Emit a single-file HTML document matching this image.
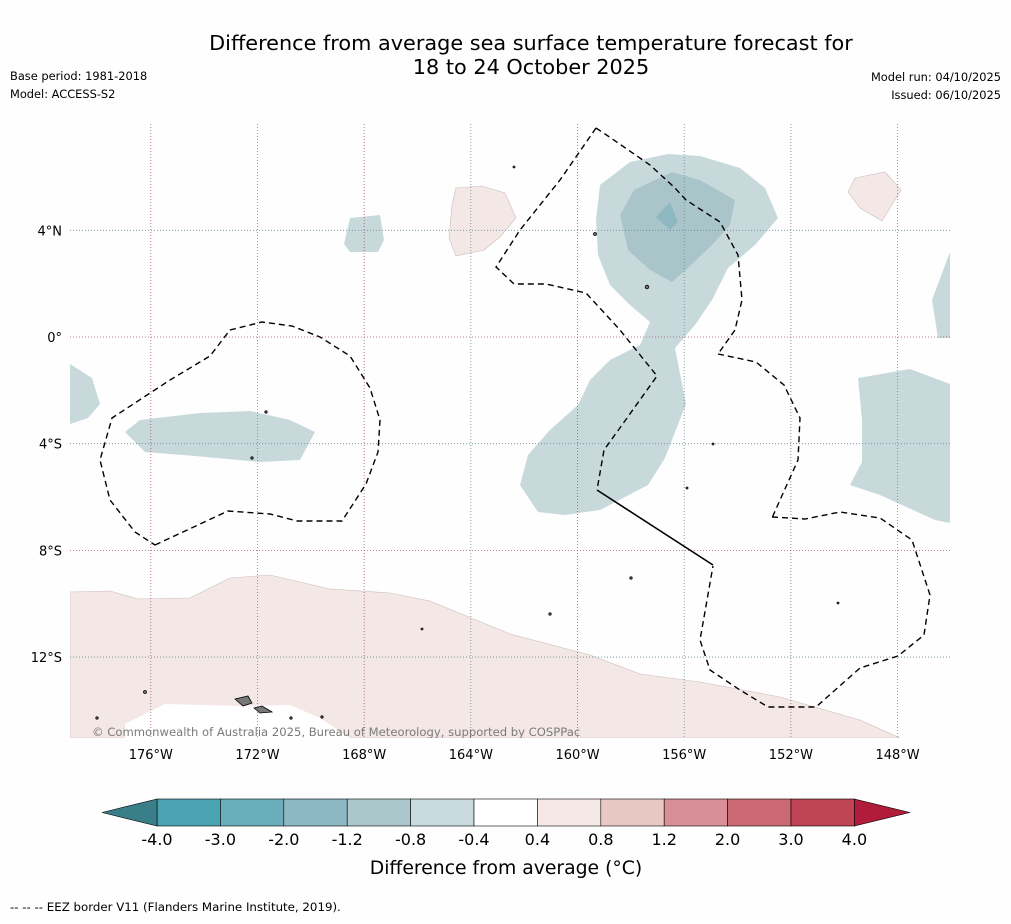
<!DOCTYPE html>
<html><head><meta charset="utf-8"><style>
body{margin:0;background:#fff;font-family:"Liberation Sans","DejaVu Sans",sans-serif;}
svg text{font-family:"DejaVu Sans","Liberation Sans",sans-serif;}
</style></head><body>
<svg id="c" width="1011" height="919" viewBox="0 0 1011 919" xmlns="http://www.w3.org/2000/svg">
<rect width="1011" height="919" fill="#fefefe"/>
<text x="531" y="50" font-size="20.8" text-anchor="middle">Difference from average sea surface temperature forecast for</text>
<text x="531" y="74" font-size="20.8" text-anchor="middle">18 to 24 October 2025</text>
<text x="10" y="80" font-size="11.4">Base period: 1981-2018</text>
<text x="10" y="98" font-size="11.4">Model: ACCESS-S2</text>
<text x="1001" y="81" font-size="11.4" text-anchor="end">Model run: 04/10/2025</text>
<text x="1001" y="99" font-size="11.4" text-anchor="end">Issued: 06/10/2025</text>
<defs><clipPath id="mc"><rect x="70" y="124" width="880" height="614"/></clipPath></defs>
<g clip-path="url(#mc)">
 <g fill="#c8d9dc">
  <path d="M70,364 L92,378 L100,404 L88,418 L70,424Z"/>
  <path d="M125,432 L140,420 L200,413 L250,411 L290,420 L315,432 L300,460 L260,462 L195,456 L145,452Z"/>
  <path d="M350,218 L380,215 L384,240 L378,252 L350,252 L344,244Z"/>
  <path d="M600,185 L630,162 L668,154 L700,156 L740,168 L765,188 L778,218 L755,245 L728,268 L712,300 L695,325 L675,348 L686,404 L665,458 L648,485 L600,510 L565,515 L538,512 L520,485 L528,455 L550,430 L578,405 L590,380 L610,360 L640,345 L650,322 L630,305 L610,285 L598,255 L596,220Z"/>
  <path d="M932,300 L950,252 L950,338 L938,338Z"/>
  <path d="M858,378 L910,369 L950,384 L950,523 L935,520 L880,495 L850,485 L862,462 L862,420Z"/>
 </g>
 <g fill="#aac5ca">
  <path d="M620,215 L634,190 L672,172 L700,180 L735,200 L730,225 L712,245 L688,268 L672,282 L650,270 L628,250Z"/>
 </g>
 <path d="M656,217 L670,202 L678,222 L670,230Z" fill="#8fb8c2"/>
 <g fill="#f4e8e6" stroke="#cbbcbc" stroke-width="0.6">
  <path d="M456,188 L482,186 L505,193 L516,218 L500,237 L484,250 L456,256 L449,238 L452,205Z"/>
  <path d="M855,178 L885,172 L901,190 L882,221 L860,208 L848,192Z"/>
  <path d="M70,592 L110,591 L138,599 L190,598 L230,578 L270,575 L330,589 L390,593 L430,601 L510,634 L590,655 L640,674 L700,682 L780,697 L860,720 L900,738 L70,738Z"/>
 </g>
 <path d="M70,738 L125,738 L125,724 L165,704 L240,706 L290,705 L320,718 L350,738Z" fill="#fff"/>
 <g id="grid"></g>
 <g fill="none" stroke="#000" stroke-width="1.4" stroke-dasharray="6,4">
  <path d="M155,545 L228,511 L270,514 L297,521 L342,521 L366,484 L378,452 L380,420 L370,388 L350,356 L320,337 L292,326 L262,322 L230,330 L210,356 L170,380 L112,418 L100,460 L110,500 L135,532Z"/>
  <path d="M596,128 L560,180 L520,230 L496,267 L514,284 L546,284 L586,293 L620,330 L657,376 L622,425 L604,450 L597,490"/>
  <path d="M596,128 L608,136 L650,165 L675,188 L686,200 L720,222 L738,255 L742,300 L735,330 L718,354"/>
  <path d="M718,354 L756,362 L784,385 L800,418 L798,460 L780,500 L772,518"/>
  <path d="M772,517 L805,519 L840,512 L880,518 L912,540 L930,595 L924,635 L898,656 L860,668 L816,707 L768,707 L740,690 L710,670 L700,640 L713,566"/>
 </g>
 <path d="M597,490 L713,565" fill="none" stroke="#000" stroke-width="1.6"/>
 <g fill="#777" stroke="#000" stroke-width="0.8">
  <path d="M235,699 L248,696 L252,703 L243,706Z"/>
  <path d="M254,708 L262,706 L272,712 L260,713Z"/>
  <circle cx="145" cy="692" r="1.5"/><circle cx="595" cy="234" r="1.5"/><circle cx="647" cy="287" r="1.8"/>
  <circle cx="266" cy="412" r="1.2"/><circle cx="252" cy="458" r="1.2"/><circle cx="631" cy="578" r="1.2"/>
  <circle cx="550" cy="614" r="1.2"/><circle cx="97" cy="718" r="1.2"/><circle cx="291" cy="718" r="1.2"/>
  <circle cx="322" cy="717" r="1.2"/><circle cx="713" cy="444" r="1"/><circle cx="687" cy="488" r="1"/>
  <circle cx="422" cy="629" r="1"/><circle cx="838" cy="603" r="1"/><circle cx="514" cy="167" r="1"/>
 </g>
 <text x="92" y="736" font-size="11.6" fill="#7a7a7a">© Commonwealth of Australia 2025, Bureau of Meteorology, supported by COSPPac</text>
</g>
<g id="ticks"></g>
<g id="cbar"></g>
<text x="506" y="874" font-size="18.8" text-anchor="middle">Difference from average (°C)</text>
<text x="10" y="911" font-size="11.8">--  --  -- EEZ border V11 (Flanders Marine Institute, 2019).</text>
</svg>
<script>
const lonTicks=[-176,-172,-168,-164,-160,-156,-152,-148];
const latTicks=[4,0,-4,-8,-12];
const cbLevels=[-4.0,-3.0,-2.0,-1.2,-0.8,-0.4,0.4,0.8,1.2,2.0,3.0,4.0];
const cbColors=["#4aa3b2","#6aaebb","#8db7c3","#abc7cb","#c8dadd","#ffffff","#f5e8e6","#e9c7c3","#d98f97","#cc6a74","#c04554"];
const NS="http://www.w3.org/2000/svg";
const x=lon=>70+(lon+179.03)*26.67;
const y=lat=>337-lat*26.67;
function mk(t,a,p){const e=document.createElementNS(NS,t);for(const k in a)e.setAttribute(k,a[k]);p.appendChild(e);return e;}
const g=document.getElementById('grid'),tk=document.getElementById('ticks'),cb=document.getElementById('cbar');
lonTicks.forEach((v,i)=>{
 const l=mk('line',{x1:x(v),x2:x(v),y1:124,y2:738,stroke:i%2?'#6a8a96':'#a05a6a','stroke-width':0.8,'stroke-dasharray':'1,2'},g);
 
 
 const t=mk('text',{x:x(v),y:759,'font-size':13,'text-anchor':'middle'},tk);t.textContent=Math.abs(v)+'°W';
 
 
});
latTicks.forEach((v,i)=>{
 const l=mk('line',{x1:70,x2:950,y1:y(v),y2:y(v),stroke:i%2?'#a05a6a':'#6a8a96','stroke-width':0.8,'stroke-dasharray':'1,2'},g);
 
 
 const t=mk('text',{x:62,y:y(v)+5,'font-size':13,'text-anchor':'end'},tk);t.textContent=v===0?'0°':Math.abs(v)+'°'+(v>0?'N':'S');
 
 
});
const cx0=157,cw=63.4,cy=799,ch=27;
cbColors.forEach((c,i)=>{
 const r=mk('rect',{x:cx0+i*cw,y:cy,width:cw,height:ch,fill:c,stroke:'#000','stroke-width':0.6},cb);
 
 
});
const lt=mk('polygon',{points:`${cx0},${cy} ${cx0},${cy+ch} 102,${cy+ch/2}`,fill:'#3a7e8a',stroke:'#000','stroke-width':0.6},cb);


const re=cx0+cbColors.length*cw;
const rt=mk('polygon',{points:`${re},${cy} ${re},${cy+ch} 910,${cy+ch/2}`,fill:'#b01c3a',stroke:'#000','stroke-width':0.6},cb);


cbLevels.forEach((v,i)=>{
 const t=mk('text',{x:cx0+i*cw,y:845,'font-size':16,'text-anchor':'middle'},cb);t.textContent=v.toFixed(1);
 
 
});
</script>
</body></html>
